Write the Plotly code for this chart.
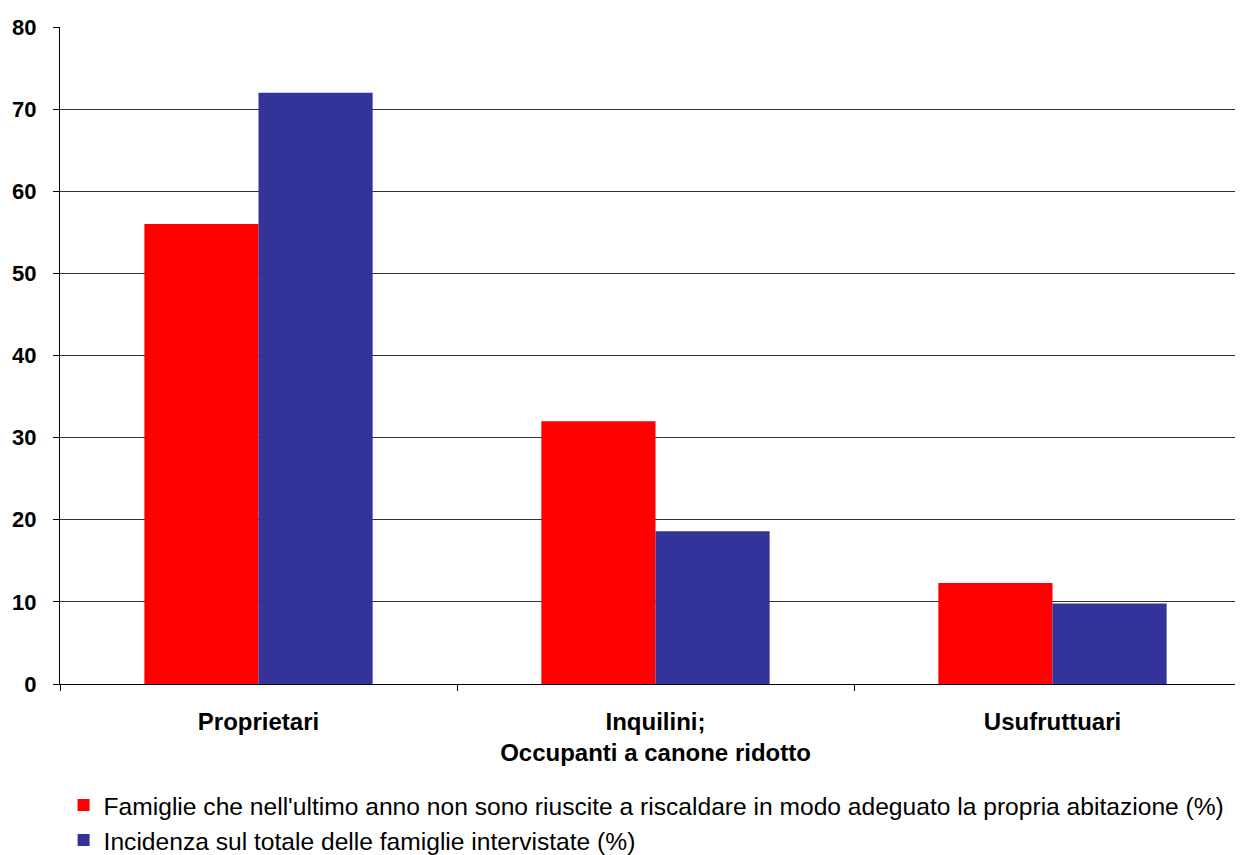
import plotly.graph_objects as go

categories = ['Proprietari', 'Inquilini;<br>Occupanti a canone ridotto', 'Usufruttuari']
famiglie_riscaldamento = [56.0, 32.0, 12.3]
incidenza_totale = [72.0, 18.6, 9.8]
series_names = [
    "Famiglie che nell'ultimo anno non sono riuscite a riscaldare in modo adeguato la propria abitazione (%)",
    'Incidenza sul totale delle famiglie intervistate (%)',
]
y_ticks = [0, 10, 20, 30, 40, 50, 60, 70, 80]

FONT = 'Liberation Sans, Arial, sans-serif'

fig = go.Figure()
fig.add_bar(x=categories, y=famiglie_riscaldamento, name=series_names[0],
            marker=dict(color='#FF0000', line_width=0))
fig.add_bar(x=categories, y=incidenza_totale, name=series_names[1],
            marker=dict(color='#333399', line_width=0))

fig.update_layout(
    width=1243, height=855,
    margin=dict(l=52, r=0, t=19, b=173),
    barmode='group', bargap=0.425, bargroupgap=0,
    plot_bgcolor='white', paper_bgcolor='white',
    font=dict(family=FONT, color='black'),
    legend=dict(orientation='v', x=0.003, xanchor='left', y=-0.15, yanchor='top',
                font=dict(size=24.6), traceorder='normal', itemsizing='constant',
                tracegroupgap=0, bgcolor='rgba(0,0,0,0)'),
)
fig.update_xaxes(
    showline=True, linecolor='black', linewidth=1,
    ticks='outside', tickson='boundaries', ticklen=6, tickcolor='black',
    ticklabelstandoff=16,
    tickfont=dict(size=24, family=FONT, weight='bold'),
    showgrid=False,
)
fig.update_yaxes(
    range=[0, 80], tickvals=y_ticks,
    showline=True, linecolor='black', linewidth=1,
    ticks='outside', ticklen=6, tickcolor='black',
    ticklabelstandoff=12,
    tickfont=dict(size=22, family=FONT, weight='bold'),
    showgrid=True, gridcolor='#333333', gridwidth=1, zeroline=False,
)

fig.write_html('out.html')
